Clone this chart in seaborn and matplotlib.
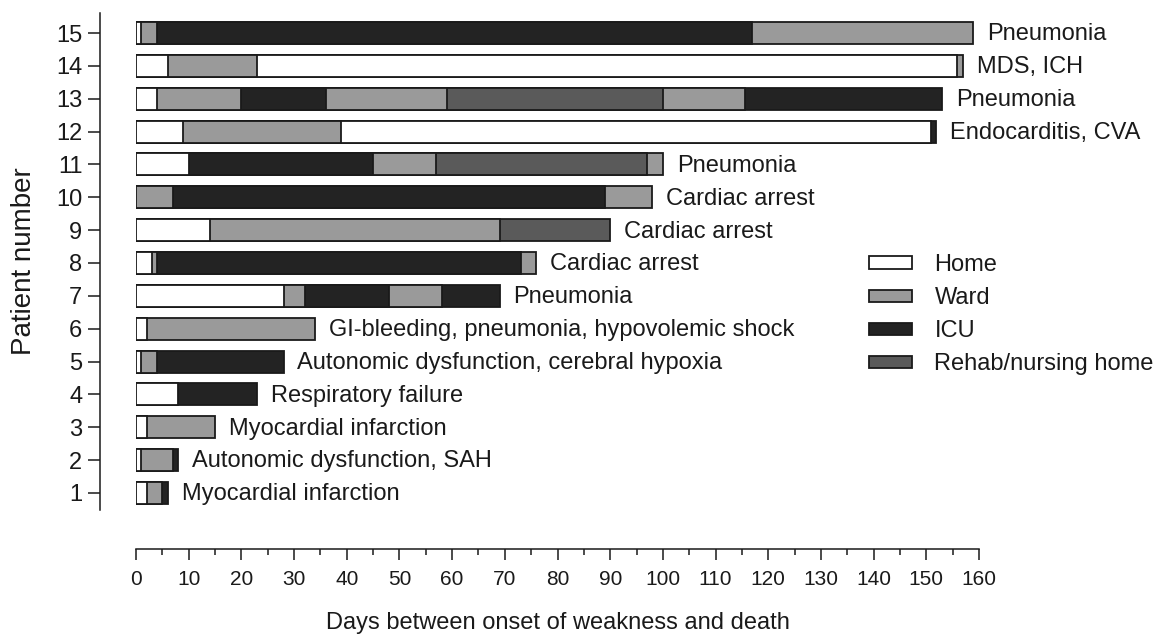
import matplotlib
matplotlib.use("Agg")
import matplotlib.pyplot as plt
from matplotlib import font_manager
from matplotlib.patches import Patch
from matplotlib.ticker import MultipleLocator
import seaborn as sns
import pandas as pd

# ---------------- data ----------------
patients = [1, 2, 3, 4, 5, 6, 7, 8, 9, 10, 11, 12, 13, 14, 15]
causes = [
    "Myocardial infarction",
    "Autonomic dysfunction, SAH",
    "Myocardial infarction",
    "Respiratory failure",
    "Autonomic dysfunction, cerebral hypoxia",
    "GI-bleeding, pneumonia, hypovolemic shock",
    "Pneumonia",
    "Cardiac arrest",
    "Cardiac arrest",
    "Cardiac arrest",
    "Pneumonia",
    "Endocarditis, CVA",
    "Pneumonia",
    "MDS, ICH",
    "Pneumonia",
]
# location sequence for each patient (in time order)
seg_locations = [
    ["Home", "Ward", "ICU"],
    ["Home", "Ward", "ICU"],
    ["Home", "Ward"],
    ["Home", "ICU"],
    ["Home", "Ward", "ICU"],
    ["Home", "Ward"],
    ["Home", "Ward", "ICU", "Ward", "ICU"],
    ["Home", "Ward", "ICU", "Ward"],
    ["Home", "Ward", "Rehab/nursing home"],
    ["Ward", "ICU", "Ward"],
    ["Home", "ICU", "Ward", "Rehab/nursing home", "Ward"],
    ["Home", "Ward", "Home", "ICU"],
    ["Home", "Ward", "ICU", "Ward", "Rehab/nursing home", "Ward", "ICU"],
    ["Home", "Ward", "Home", "Ward"],
    ["Home", "Ward", "ICU", "Ward"],
]
# day on which each stay ended (cumulative days since onset of weakness)
seg_ends = [
    [2, 5, 6],
    [1, 7, 8],
    [2, 15],
    [8, 23],
    [1, 4, 28],
    [2, 34],
    [28, 32, 48, 58, 69],
    [3, 4, 73, 76],
    [14, 69, 90],
    [7, 89, 98],
    [10, 45, 57, 97, 100],
    [9, 39, 150.8, 151.8],
    [4, 20, 36, 59, 100, 115.5, 153],
    [6, 23, 155.8, 156.9],
    [0.9, 4, 117, 158.9],
]
locations = ["Home", "Ward", "ICU", "Rehab/nursing home"]
loc_colors = ["#ffffff", "#9a9a9a", "#232323", "#5a5a5a"]
x_ticks = list(range(0, 161, 10))

# ---------------- style ----------------
sns.set_style("ticks")
names = {f.name for f in font_manager.fontManager.ttflist}
plt.rcParams["font.family"] = ["Liberation Sans", "DejaVu Sans"]
TXT = "#1a1a1a"
EDGE = "#1a1a1a"
if "Liberation Sans Narrow" in names:
    narrow = ["Liberation Sans Narrow", "Liberation Sans"]
    xt_size, xl_size = 16.5, 20
else:
    narrow = ["Liberation Sans", "DejaVu Sans"]
    xt_size, xl_size = 15, 17

W, H, DPI = 1169, 635, 100
fig = plt.figure(figsize=(W / DPI, H / DPI), dpi=DPI)
ax = fig.add_axes([136 / W, 1 - 510 / H, (979 - 136) / W, (510 - 13) / H])

order = [str(p) for p in reversed(patients)]
palette = dict(zip(locations, loc_colors))

max_seg = max(len(s) for s in seg_ends)
for k in range(max_seg - 1, -1, -1):
    rows = []
    for p, locs, ends in zip(patients, seg_locations, seg_ends):
        if len(ends) > k:
            rows.append({"patient": str(p), "end": ends[k], "loc": locs[k]})
    df = pd.DataFrame(rows)
    sns.barplot(data=df, x="end", y="patient", hue="loc", order=order,
                hue_order=locations, palette=palette, dodge=False,
                orient="h", width=0.67, edgecolor=EDGE, linewidth=1.3,
                errorbar=None, legend=False, ax=ax, zorder=2)

# cause of death labels
for p, cause, ends in zip(patients, causes, seg_ends):
    ax.annotate(cause, xy=(ends[-1], order.index(str(p))), xytext=(10, -1),
                textcoords="offset points", va="center", ha="left",
                fontsize=17, color=TXT)

# spines first (repositioning resets the ticks)
for s in ["top", "right"]:
    ax.spines[s].set_visible(False)
ax.spines["left"].set_position(("outward", 36 * 72 / DPI))
ax.spines["bottom"].set_position(("outward", 39 * 72 / DPI))
for s in ["left", "bottom"]:
    ax.spines[s].set_linewidth(1.1)
    ax.spines[s].set_color(EDGE)

ax.set_xlim(0, 160)
ax.set_ylim(14.52, -0.61)
ax.set_xticks(x_ticks)
ax.set_xticklabels([str(t) for t in x_ticks])
ax.xaxis.set_minor_locator(MultipleLocator(5))
ax.tick_params(axis="x", which="major", length=8, width=1.1, pad=7, color=EDGE,
               labelsize=xt_size, labelcolor=TXT, labelfontfamily=narrow)
ax.tick_params(axis="x", which="minor", length=4.5, width=1.1, color=EDGE)
ax.tick_params(axis="y", which="major", length=8.6, width=1.1, pad=4, color=EDGE,
               labelsize=17, labelcolor=TXT)

ax.set_xlabel("Days between onset of weakness and death", family=narrow,
              fontsize=xl_size, color=TXT, labelpad=17)
ax.set_ylabel("Patient number", fontsize=20, color=TXT, labelpad=14)

handles = [Patch(facecolor=c, edgecolor=EDGE, linewidth=1.3, label=l)
           for l, c in zip(locations, loc_colors)]
fig.legend(handles=handles, loc="upper left",
           bbox_to_anchor=(869 / W, 1 - 254 / H), frameon=False,
           fontsize=17, labelcolor=TXT, handlelength=1.82, handleheight=0.42,
           handletextpad=0.95, labelspacing=0.47, borderpad=0, borderaxespad=0)

fig.savefig("out.png", dpi=DPI, facecolor="white")
